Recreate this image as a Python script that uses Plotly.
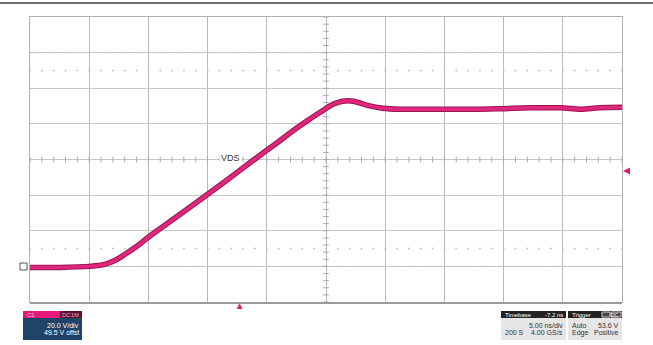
import numpy as np
import plotly.graph_objects as go

# VDS waveform: time in ns, voltage in V
t_ns = [0, 2.5, 5.0, 6.3, 7.2, 8.0, 8.9, 10.1, 12.3, 14.4, 16.5, 18.6, 20.7, 22.8,
        24.5, 25.6, 26.4, 27.3, 28.5, 29.8, 31.3, 33.4, 35.5, 37.6, 39.7, 42.2,
        44.8, 46.5, 48.1, 50.0]
vds = [-0.6, -0.6, 0.0, 1.1, 3.4, 6.7, 10.7, 16.9, 27.4, 37.5, 47.8, 58.3, 68.6, 78.9,
       86.5, 91.0, 92.7, 92.7, 90.4, 88.8, 88.2, 88.2, 88.2, 88.2, 88.5, 89.0,
       89.0, 88.2, 89.0, 89.3]

trace_label = "VDS"
trig_level = 53.6      # V
trig_time = 17.7       # ns
ch_box = ["C1", "DC1M", "20.0 V/div", "49.5 V offst"]
tb_box = ["Timebase", "-7.2 ns", "5.00 ns/div", "200 S", "4.00 GS/s"]
trg_box = ["Trigger", "DC", "Auto", "53.6 V", "Edge", "Positive"]

W, H = 653, 345
L, R, T, B = 30, 622, 17, 302
T0, T1, V0, V1 = 0, 50, -20, 140


def px(x):
    return (x - L) / (R - L)


def py(y):
    return (B - y) / (B - T)


fig = go.Figure()

# graticule decorations: centre crosshair ticks and dotted rows
tick_t = np.arange(0, 50.01, 1.0)
tick_v = np.arange(-20, 140.01, 4.0)
fig.add_trace(go.Scatter(x=tick_t, y=[60] * len(tick_t), mode="markers",
                         marker=dict(symbol="line-ns", size=4, line=dict(color="#a8a8a8", width=1)),
                         hoverinfo="skip", showlegend=False))
fig.add_trace(go.Scatter(x=[25] * len(tick_v), y=tick_v, mode="markers",
                         marker=dict(symbol="line-ew", size=4, line=dict(color="#a8a8a8", width=1)),
                         hoverinfo="skip", showlegend=False))
for row in [110, 10]:
    fig.add_trace(go.Scatter(x=tick_t, y=[row] * len(tick_t), mode="markers",
                             marker=dict(symbol="circle", size=2, color="#c4c4c4"),
                             hoverinfo="skip", showlegend=False))

# waveform
fig.add_trace(go.Scatter(x=t_ns, y=vds, mode="lines", line_shape="spline",
                         line=dict(color="#9c1452", width=5.5), hoverinfo="skip", showlegend=False))
fig.add_trace(go.Scatter(x=t_ns, y=vds, mode="lines", line_shape="spline",
                         line=dict(color="#e0277c", width=3.5), showlegend=False))

fig.add_annotation(x=16.9, y=61, text=trace_label, showarrow=False, bgcolor="white",
                   font=dict(family="Liberation Sans", size=9, color="#333333"))

shapes = []
# dashed rows
for row in [120, 0]:
    shapes.append(dict(type="line", xref="x", yref="y", x0=0, x1=50, y0=row, y1=row,
                       line=dict(color="#b8b8b8", width=1, dash="dash"), layer="below"))
# top border of the page
shapes.append(dict(type="line", xref="paper", yref="paper", x0=px(0), x1=px(W),
                   y0=py(3), y1=py(3), line=dict(color="#6e6e6e", width=2)))
# bottom edge of graticule
shapes.append(dict(type="line", xref="paper", yref="paper", x0=px(L), x1=px(R),
                   y0=py(B + 1), y1=py(B + 1), line=dict(color="#9a9a9a", width=2)))
# ground marker
shapes.append(dict(type="rect", xref="paper", yref="paper", x0=px(20), x1=px(27),
                   y0=py(270), y1=py(263), line=dict(color="#555555", width=1),
                   fillcolor="white"))

# trigger level arrow (right edge) and trigger position arrow (bottom edge)
ty = py(B - (trig_level - V0) / (V1 - V0) * (B - T))
dy = 3.5 / (B - T)
shapes.append(dict(type="path", xref="paper", yref="paper",
                   path=f"M {px(623)} {ty} L {px(630)} {ty + dy} L {px(630)} {ty - dy} Z",
                   line_width=0, fillcolor="#d61f6e"))
tx = px(L + (trig_time - T0) / (T1 - T0) * (R - L))
dx = 3 / (R - L)
shapes.append(dict(type="path", xref="paper", yref="paper",
                   path=f"M {tx} {py(303)} L {tx + dx} {py(309)} L {tx - dx} {py(309)} Z",
                   line_width=0, fillcolor="#e0304a"))

# channel box
shapes.append(dict(type="rect", xref="paper", yref="paper", x0=px(23), x1=px(60),
                   y0=py(318), y1=py(311), line_width=0, fillcolor="#e8197a"))
shapes.append(dict(type="rect", xref="paper", yref="paper", x0=px(60), x1=px(82),
                   y0=py(318), y1=py(311), line_width=0, fillcolor="#5a1230"))
shapes.append(dict(type="rect", xref="paper", yref="paper", x0=px(23), x1=px(82),
                   y0=py(340), y1=py(318), line_width=0, fillcolor="#1f4468"))
# timebase / trigger boxes
for x0, x1 in [(501, 566), (568, 622)]:
    shapes.append(dict(type="rect", xref="paper", yref="paper", x0=px(x0), x1=px(x1),
                       y0=py(318), y1=py(311), line_width=0, fillcolor="#222222"))
    shapes.append(dict(type="rect", xref="paper", yref="paper", x0=px(x0), x1=px(x1),
                       y0=py(340), y1=py(318), line_width=0, fillcolor="#e6e6e6"))
shapes.append(dict(type="rect", xref="paper", yref="paper", x0=px(602), x1=px(610),
                   y0=py(317), y1=py(312), line=dict(color="#cccccc", width=1), fillcolor="#444444"))
shapes.append(dict(type="rect", xref="paper", yref="paper", x0=px(611), x1=px(621),
                   y0=py(317), y1=py(312), line=dict(color="#cccccc", width=1), fillcolor="#444444"))

fig.update_layout(shapes=shapes)


def label(x, y, text, color, anchor="left", size=7):
    fig.add_annotation(xref="paper", yref="paper", x=px(x), y=py(y), text=text,
                       showarrow=False, xanchor=anchor, yanchor="middle",
                       font=dict(family="Liberation Sans", size=size, color=color))


label(25, 314.5, ch_box[0], "#ffd0e4", size=6)
label(81, 314.5, ch_box[1], "#f0a0c0", "right", size=6)
label(81, 325, ch_box[2], "#ffffff", "right")
label(81, 333, ch_box[3], "#ffffff", "right")

label(503, 314.5, tb_box[0], "#ffffff", size=6)
label(565, 314.5, tb_box[1], "#ffffff", "right", size=6)
label(565, 325, tb_box[2], "#333333", "right")
label(503, 333, tb_box[3], "#333333")
label(565, 333, tb_box[4], "#333333", "right")

label(570, 314.5, trg_box[0], "#ffffff", size=6)
label(621, 314.5, trg_box[1], "#ffffff", "right", size=5)
label(570, 325, trg_box[2], "#333333")
label(621, 325, trg_box[3], "#333333", "right")
label(570, 333, trg_box[4], "#333333")
label(621, 333, trg_box[5], "#333333", "right")

fig.update_xaxes(range=[T0, T1], dtick=5, showgrid=True, gridcolor="#b8b8b8", gridwidth=1,
                 showticklabels=False, ticks="", zeroline=False,
                 showline=True, linecolor="#b0b0b0", linewidth=1, mirror=True)
fig.update_yaxes(range=[V0, V1], dtick=20, showgrid=True, gridcolor="#c6c6c6", gridwidth=1,
                 showticklabels=False, ticks="", zeroline=False,
                 showline=True, linecolor="#b0b0b0", linewidth=1, mirror=True)

fig.update_layout(width=W, height=H, margin=dict(l=L, r=W - R, t=T, b=H - B),
                  plot_bgcolor="white", paper_bgcolor="white")

# the page's default body margin would push the figure off the window
fig.write_html("out.html", config={"displayModeBar": False},
               post_script="document.body.style.margin='0';")
